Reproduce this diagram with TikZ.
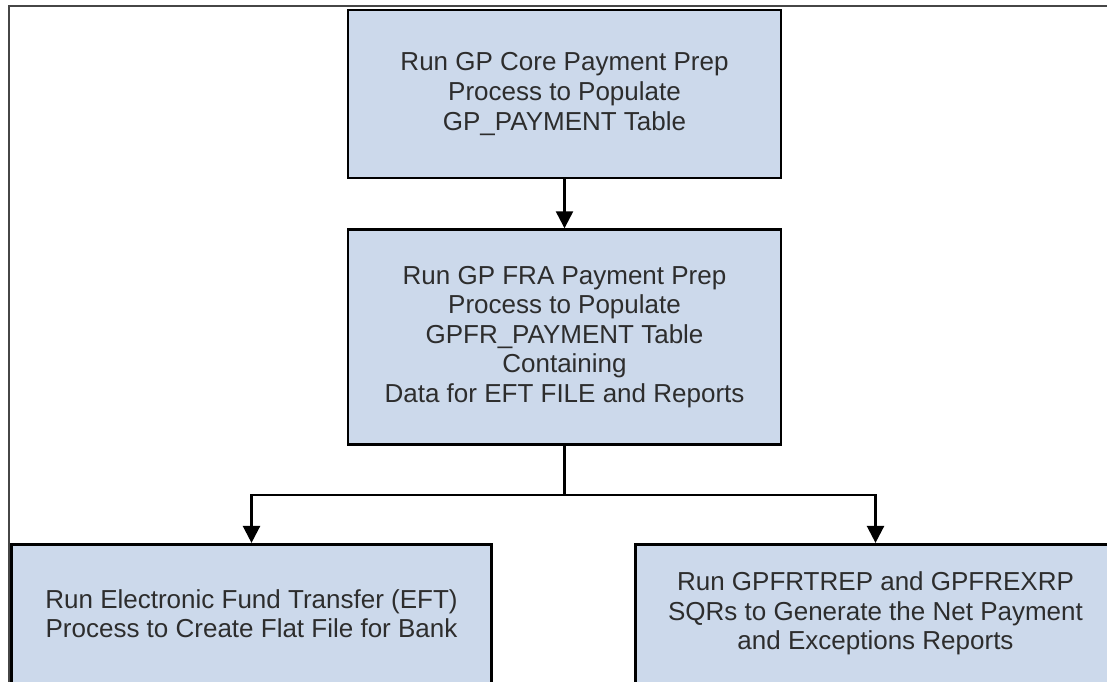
\documentclass[tikz,border=0pt]{standalone}
\usepackage{fontspec}
\setmainfont{Liberation Sans}
\usepackage{xcolor}
\usepackage{tikz}
\usetikzlibrary{arrows.meta, positioning}
\definecolor{boxblue}{RGB}{204,217,235}
\definecolor{textgray}{RGB}{45,45,45}
\definecolor{framegray}{RGB}{70,70,70}
\tikzstyle{process} = [rectangle, minimum width=433pt, minimum height=168pt, text centered, align=center, draw=black, line width=2.6pt, fill=boxblue, text=textgray, font=\fontsize{26}{29.5}\selectfont]
\tikzstyle{report} = [process, minimum width=480pt, minimum height=139pt]
\tikzstyle{line} = [line width=2.4pt, draw=black]
\tikzstyle{arrow} = [line, -{Triangle[width=17pt,length=17pt]}]
\tikzstyle{frameline} = [line width=1.6pt, draw=framegray]

\begin{document}
\begin{tikzpicture}[x=1pt, y=-1pt, node distance=49pt]

	\useasboundingbox (0,0) rectangle (1107,681);
	\clip (0,0) rectangle (1107,681);

	% Frame
	\draw [frameline] (9,690) |- (1115,6);

	% Nodes
	\node (corePrep) [process] at (564.5,94) {Run GP Core Payment Prep\\Process to Populate\\GP\_PAYMENT Table};
	\node (fraPrep) [process, minimum height=215pt, below=of corePrep] {Run GP FRA Payment Prep\\Process to Populate\\GPFR\_PAYMENT Table\\Containing\\Data for EFT FILE and Reports};
	\coordinate (split) at ([yshift=-49pt]fraPrep.south);
	\node (eftRun) [report, anchor=north] at ([xshift=-313pt, yshift=-48pt]split) {Run Electronic Fund Transfer (EFT)\\Process to Create Flat File for Bank};
	\node (sqrRun) [report, anchor=north] at ([xshift=311pt, yshift=-48pt]split) {Run GPFRTREP and GPFREXRP\\SQRs to Generate the Net Payment\\and Exceptions Reports};

	% Arrows
	\draw [arrow] (corePrep) -- (fraPrep);
	\draw [line] (fraPrep.south) -- (split);
	\draw [arrow] (split) -| (eftRun.north);
	\draw [arrow] (split) -| (sqrRun.north);

\end{tikzpicture}
\end{document}
